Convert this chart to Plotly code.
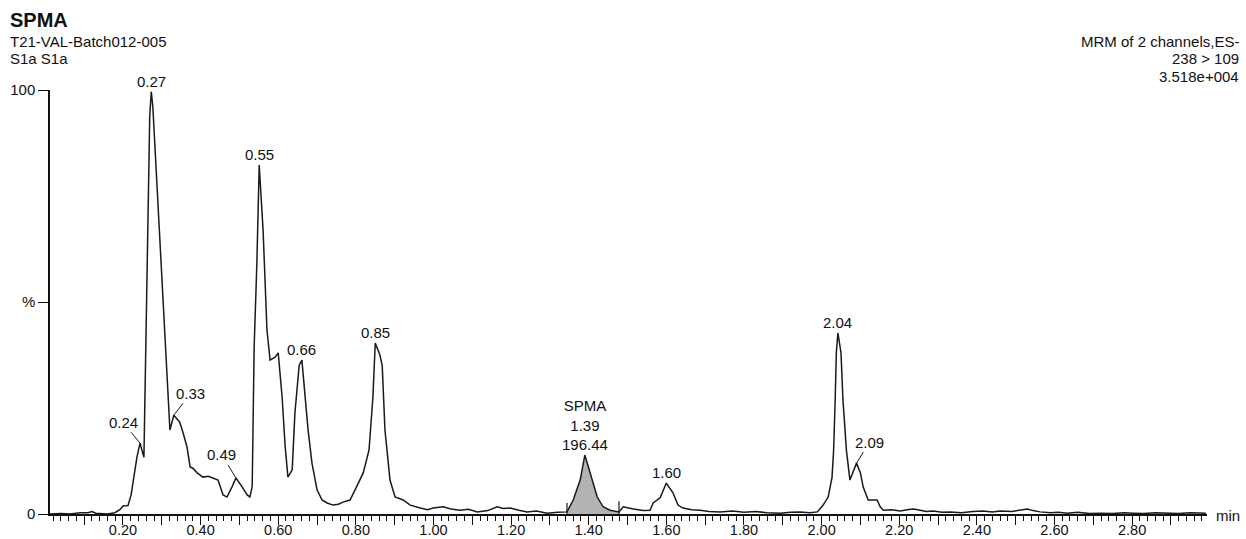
import plotly.graph_objects as go

# ---------------- data ----------------
rt = [0.012, 0.040, 0.063, 0.090, 0.110, 0.120, 0.130, 0.141, 0.160, 0.179, 0.192, 0.200, 0.213,
      0.221, 0.228, 0.236, 0.244, 0.250, 0.254, 0.269, 0.273, 0.277, 0.321, 0.331, 0.346,
      0.355, 0.365, 0.373, 0.380, 0.391, 0.406, 0.420, 0.432, 0.445, 0.458, 0.468, 0.481, 0.491,
      0.507, 0.520, 0.527, 0.533, 0.538, 0.545, 0.551, 0.561, 0.571, 0.579, 0.592, 0.600, 0.610,
      0.618, 0.625, 0.636, 0.643, 0.654, 0.661, 0.669, 0.677, 0.687, 0.700, 0.713, 0.726, 0.741,
      0.755, 0.767, 0.785, 0.798, 0.810, 0.819, 0.834, 0.844, 0.850, 0.862, 0.868, 0.875, 0.888,
      0.901, 0.922, 0.940, 0.966, 0.985, 0.999, 1.025, 1.045, 1.069, 1.090, 1.113, 1.140, 1.164,
      1.180, 1.198, 1.220, 1.241, 1.265, 1.293, 1.320, 1.344, 1.360, 1.378, 1.390, 1.406, 1.422,
      1.437, 1.455, 1.478, 1.489, 1.515, 1.540, 1.558, 1.566, 1.584, 1.600, 1.617, 1.630, 1.643,
      1.665, 1.687, 1.710, 1.739, 1.770, 1.800, 1.830, 1.860, 1.894, 1.920, 1.945, 1.970, 1.989,
      2.004, 2.017, 2.027, 2.031, 2.035, 2.038, 2.042, 2.050, 2.055, 2.064, 2.073, 2.082, 2.090,
      2.100, 2.107, 2.120, 2.143, 2.151, 2.159, 2.180, 2.203, 2.220, 2.237, 2.254, 2.270, 2.288,
      2.310, 2.332, 2.360, 2.390, 2.416, 2.440, 2.460, 2.490, 2.510, 2.530, 2.545, 2.563, 2.590,
      2.610, 2.633, 2.660, 2.690, 2.718, 2.750, 2.780, 2.803, 2.830, 2.860, 2.891, 2.920, 2.950,
      2.976, 2.990]
intensity = [0.0, 0.1, 0.0, 0.3, 0.3, 0.6, 0.2, 0.1, 0.0, 0.3, 1.0, 1.9, 2.0,
             4.5, 9.2, 13.4, 16.7, 14.5, 13.4, 94.0, 99.6, 96.0, 19.8, 23.3, 21.7,
             19.1, 15.8, 11.1, 10.8, 9.7, 8.7, 8.9, 8.5, 8.0, 4.5, 4.0, 6.4, 8.5,
             6.4, 4.5, 4.0, 6.5, 39.4, 59.2, 82.3, 67.0, 43.4, 36.3, 37.0, 38.0, 27.6,
             15.8, 8.7, 10.4, 23.8, 35.1, 36.3, 27.6, 19.8, 12.0, 5.7, 3.3, 2.6, 2.1,
             2.3, 2.8, 3.3, 5.7, 7.8, 9.7, 15.1, 27.6, 40.3, 37.5, 35.0, 19.8, 8.0,
             4.0, 3.3, 2.1, 1.4, 1.0, 1.4, 1.7, 1.2, 0.9, 1.1, 0.5, 0.8, 1.7,
             1.3, 1.4, 0.9, 0.5, 0.7, 0.2, 0.4, 0.5, 3.3, 8.0, 13.9, 8.7, 4.0,
             1.7, 0.9, 0.5, 1.7, 1.2, 0.8, 0.9, 2.6, 3.8, 7.3, 5.0, 2.1, 1.4,
             1.0, 0.9, 0.6, 0.5, 0.7, 0.4, 0.6, 0.3, 0.2, 0.4, 0.5, 0.3, 0.5,
             2.1, 4.0, 8.7, 15.1, 27.0, 38.0, 42.7, 38.0, 27.0, 15.0, 8.0, 10.4, 12.0,
             9.7, 6.4, 3.3, 3.3, 1.7, 0.9, 1.0, 0.7, 1.0, 1.2, 0.9, 0.6, 0.7,
             0.4, 0.5, 0.3, 0.6, 0.7, 0.5, 0.7, 0.6, 0.9, 1.2, 0.8, 0.5, 0.3,
             0.4, 0.2, 0.4, 0.1, 0.2, 0.1, 0.3, 0.2, 0.1, 0.3, 0.2, 0.1, 0.3,
             0.2, 0.2]

# labelled peaks: (rt, intensity, text)
top_labels_x = [0.273, 0.551, 0.661, 0.850, 1.600, 2.042]
top_labels_y = [99.6, 82.3, 36.3, 40.3, 7.3, 42.7]
top_labels_t = ["0.27", "0.55", "0.66", "0.85", "1.60", "2.04"]

lead_labels_x = [0.244, 0.331, 0.491, 2.090]
lead_labels_y = [16.7, 23.3, 8.5, 12.0]
lead_labels_t = ["0.24", "0.33", "0.49", "2.09"]
lead_dx = [-17, 17, -14, 13]
lead_dy = [-21, -22, -23, -21]

spma_rt, spma_y, spma_area = 1.390, 13.9, "196.44"
integ_start, integ_end = 1.344, 1.478

x_tickvals = [round(0.1 * i, 2) for i in range(1, 30)]
x_ticktext = [f"{v:.2f}" if i % 2 == 1 else "" for i, v in enumerate(x_tickvals)]
y_tickvals = [0, 50, 100]
y_ticktext = ["0", "%", "100"]

# ---------------- figure ----------------
FONT = "Liberation Sans, Arial, sans-serif"
L, R, T, B = 50, 39, 90, 25
W, H = 1246, 539
PW, PH = W - L - R, H - T - B


def px(xp):
    return (xp - L) / PW


def py(yp):
    return (H - B - yp) / PH


fig = go.Figure()

# integrated area of SPMA peak
seg = [(x, y) for x, y in zip(rt, intensity) if integ_start <= x <= integ_end]
fig.add_trace(go.Scatter(x=[p[0] for p in seg], y=[p[1] for p in seg], mode="lines",
                         line=dict(width=0), fill="tozeroy", fillcolor="#b3b3b3",
                         hoverinfo="skip", showlegend=False))

fig.add_trace(go.Scatter(x=rt, y=intensity, mode="lines",
                         line=dict(color="#1a1a1a", width=1.5),
                         showlegend=False))

for xi, top in [(integ_start, 2.6), (integ_end, 3.0)]:
    fig.add_trace(go.Scatter(x=[xi, xi], y=[0, top], mode="lines",
                             line=dict(color="#1a1a1a", width=1.2),
                             showlegend=False, hoverinfo="skip"))

ann = []
for x, y, t in zip(top_labels_x, top_labels_y, top_labels_t):
    ann.append(dict(x=x, y=y, xref="x", yref="y", text=t, showarrow=False,
                    yanchor="bottom", xanchor="center", yshift=0))
for x, y, t, dx, dy in zip(lead_labels_x, lead_labels_y, lead_labels_t, lead_dx, lead_dy):
    ann.append(dict(x=x, y=y, xref="x", yref="y", text=t, showarrow=True,
                    arrowhead=0, arrowwidth=1, arrowcolor="#1a1a1a",
                    ax=dx, ay=dy, standoff=0, startstandoff=0))
ann.append(dict(x=spma_rt, y=spma_y, xref="x", yref="y",
                text=f"SPMA<br>{spma_rt:.2f}<br>{spma_area}", showarrow=False,
                yanchor="bottom", xanchor="center", yshift=0))

# header texts
ann += [
    dict(x=px(8), y=py(20), xref="paper", yref="paper", text="<b>SPMA</b>",
         showarrow=False, xanchor="left", yanchor="middle", font=dict(size=20)),
    dict(x=px(8), y=py(41), xref="paper", yref="paper", text="T21-VAL-Batch012-005",
         showarrow=False, xanchor="left", yanchor="middle"),
    dict(x=px(8), y=py(59), xref="paper", yref="paper", text="S1a S1a",
         showarrow=False, xanchor="left", yanchor="middle"),
    dict(x=px(1241), y=py(41), xref="paper", yref="paper", text="MRM of 2 channels,ES-",
         showarrow=False, xanchor="right", yanchor="middle"),
    dict(x=px(1241), y=py(59), xref="paper", yref="paper", text="238 > 109",
         showarrow=False, xanchor="right", yanchor="middle"),
    dict(x=px(1241), y=py(76), xref="paper", yref="paper", text="3.518e+004",
         showarrow=False, xanchor="right", yanchor="middle"),
    dict(x=px(1214), y=py(515), xref="paper", yref="paper", text="min",
         showarrow=False, xanchor="left", yanchor="middle"),
]

fig.update_layout(
    width=W, height=H,
    margin=dict(l=L, r=R, t=T, b=B, pad=0, autoexpand=False),
    paper_bgcolor="white", plot_bgcolor="white",
    font=dict(family=FONT, size=15, color="#111111"),
    annotations=ann,
    showlegend=False,
    xaxis=dict(range=[0.012, 2.993], showgrid=False, zeroline=False, automargin=False,
               showline=True, linecolor="#111111", linewidth=1.5,
               tickmode="array", tickvals=x_tickvals, ticktext=x_ticktext,
               ticks="outside", ticklen=9, tickwidth=1.3, tickcolor="#111111",
               ticklabelstandoff=-7,
               minor=dict(tickmode="linear", tick0=0, dtick=0.02, ticks="outside",
                          ticklen=5, tickwidth=1.1, tickcolor="#111111", showgrid=False),
               tickfont=dict(size=14.5)),
    yaxis=dict(range=[0, 100], showgrid=False, zeroline=False, automargin=False,
               showline=True, linecolor="#111111", linewidth=1.5,
               tickmode="array", tickvals=y_tickvals, ticktext=y_ticktext,
               ticks="outside", ticklen=10, tickwidth=1.3, tickcolor="#111111",
               tickfont=dict(size=15)),
)

fig.write_html("out.html")
